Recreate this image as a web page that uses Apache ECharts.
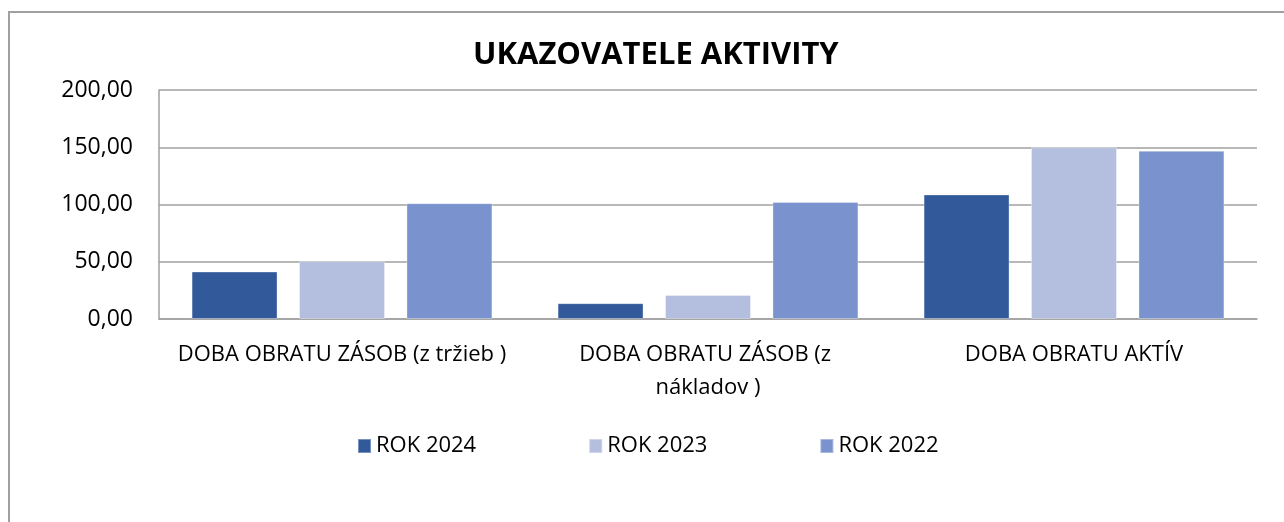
<!DOCTYPE html>
<html>
<head>
<meta charset="utf-8">
<script src="https://cdn.jsdelivr.net/npm/echarts@6/dist/echarts.min.js"></script>
<style>
  html, body { margin: 0; padding: 0; background: #fff; }
  #chart { width: 1284px; height: 522px; }
</style>
</head>
<body>
<div id="chart"></div>
<script>
// data
const categories = ['DOBA OBRATU ZÁSOB (z tržieb )', 'DOBA OBRATU ZÁSOB (z nákladov )', 'DOBA OBRATU AKTÍV']
const seriesNames = ['ROK 2024', 'ROK 2023', 'ROK 2022']
const rok2024 = [41.5, 13.8, 108.8]
const rok2023 = [50.5, 21.0, 150.0]
const rok2022 = [101.2, 102.2, 147.0]
const colors = ['#325A9B', '#B4BFDF', '#7A92CE']

const font = '"Open Sans", sans-serif'

const chart = echarts.init(document.getElementById('chart'))

const values = [rok2024, rok2023, rok2022]
const series = seriesNames.map((name, i) => ({
  name: name,
  type: 'bar',
  data: values[i],
  barGap: '25%',
  barCategoryGap: '17.8%',
  itemStyle: {
    color: colors[i],
    borderColor: 'rgba(255,255,255,0.35)',
    borderWidth: 1
  }
}))

chart.setOption({
  animation: false,
  backgroundColor: '#fff',
  textStyle: { fontFamily: font },
  graphic: [{
    type: 'rect',
    shape: { x: 9, y: 12, width: 1400, height: 700 },
    style: { fill: 'none', stroke: '#a0a0a0', lineWidth: 2 },
    silent: true
  }],
  title: {
    text: 'UKAZOVATELE AKTIVITY',
    left: 468,
    top: 35,
    textStyle: { fontFamily: font, fontSize: 31, fontWeight: 'bold', color: '#000' }
  },
  legend: {
    data: seriesNames,
    left: 352,
    top: 430,
    itemWidth: 13,
    itemHeight: 14,
    itemGap: 112,
    icon: 'rect',
    textStyle: { fontFamily: font, fontSize: 22, color: '#000' }
  },
  grid: { left: 159, right: 27, top: 90, bottom: 203 },
  xAxis: {
    type: 'category',
    data: categories,
    axisLine: { lineStyle: { color: '#a0a0a0', width: 1.5 } },
    axisTick: { show: false },
    axisLabel: {
      fontFamily: font,
      fontSize: 22,
      color: '#000',
      margin: 19,
      lineHeight: 33,
      width: 366,
      overflow: 'break',
      interval: 0
    }
  },
  yAxis: {
    type: 'value',
    min: 0,
    max: 200,
    interval: 50,
    axisLine: { show: true, lineStyle: { color: '#a0a0a0', width: 1.5 } },
    axisTick: { show: false },
    splitLine: { lineStyle: { color: '#a0a0a0', width: 1.5 } },
    axisLabel: {
      fontFamily: font,
      fontSize: 23,
      color: '#000',
      margin: 26,
      formatter: v => v.toFixed(2).replace('.', ',')
    }
  },
  series: series
})
</script>
</body>
</html>
